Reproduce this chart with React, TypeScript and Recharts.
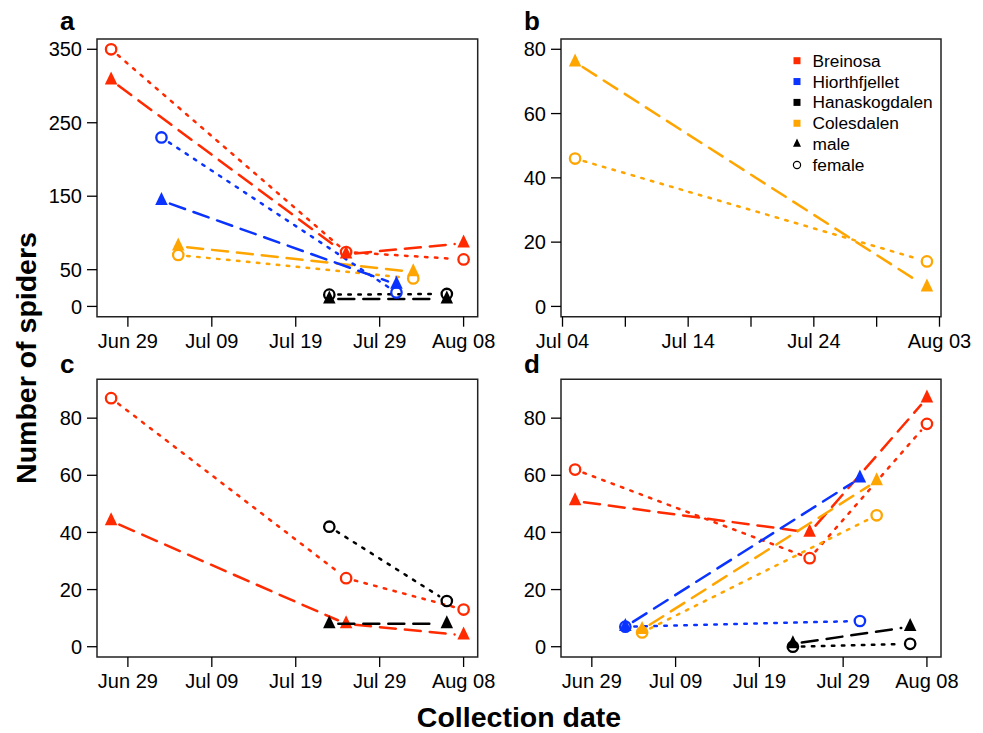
import React from 'react';
import { ScatterChart, Scatter, XAxis, YAxis, ReferenceArea } from 'recharts';

const RED = '#ff2a00';
const BLUE = '#0a33ff';
const BLACK = '#000000';
const ORANGE = '#ffa500';
const FONT = '"Liberation Sans", Arial, Helvetica, sans-serif';
const YEAR = 2013;

// ---- tick labels ----
const ticksACD = ['06-29', '07-09', '07-19', '07-29', '08-08'];
const tickLabelsACD = ['Jun 29', 'Jul 09', 'Jul 19', 'Jul 29', 'Aug 08'];
const ticksB = ['07-04', '07-09', '07-14', '07-19', '07-24', '07-29', '08-03'];
const tickLabelsB = ['Jul 04', '', 'Jul 14', '', 'Jul 24', '', 'Aug 03'];
const yTicksA = [0, 50, 150, 250, 350];
const yTicksB = [0, 20, 40, 60, 80];
const yTicksCD = [0, 20, 40, 60, 80];
const yLimA = [0, 350];
const yLimB = [0, 80];
const yLimCD = [0, 90];

// ---- legend ----
const sites = ['Breinosa', 'Hiorthfjellet', 'Hanaskogdalen', 'Colesdalen'];
const siteColors = [RED, BLUE, BLACK, ORANGE];
const sexes = ['male', 'female'];

// ---- panel a ----
const aBreinosaDates = ['06-27', '07-25', '08-08'];
const aBreinosaMale = [308, 71, 86];
const aBreinosaFemale = [350, 74, 64];
const aHiorthDates = ['07-03', '07-31'];
const aHiorthMale = [144, 30];
const aHiorthFemale = [230, 19];
const aHanaskDates = ['07-23', '08-06'];
const aHanaskMale = [10, 10];
const aHanaskFemale = [16, 17];
const aColesDates = ['07-05', '08-02'];
const aColesMale = [82, 47];
const aColesFemale = [70, 38];

// ---- panel b ----
const bColesDates = ['07-05', '08-02'];
const bColesMale = [76, 6];
const bColesFemale = [46, 14];

// ---- panel c ----
const cBreinosaDates = ['06-27', '07-25', '08-08'];
const cBreinosaMale = [44, 8, 4];
const cBreinosaFemale = [87, 24, 13];
const cHanaskDates = ['07-23', '08-06'];
const cHanaskMale = [8, 8];
const cHanaskFemale = [42, 16];

// ---- panel d ----
const dBreinosaDates = ['06-27', '07-25', '08-08'];
const dBreinosaMale = [51, 40, 87];
const dBreinosaFemale = [62, 31, 78];
const dHiorthDates = ['07-03', '07-31'];
const dHiorthMale = [7, 59];
const dHiorthFemale = [7, 9];
const dHanaskDates = ['07-23', '08-06'];
const dHanaskMale = [1, 7];
const dHanaskFemale = [0, 1];
const dColesDates = ['07-05', '08-02'];
const dColesMale = [6, 58];
const dColesFemale = [5, 46];

const day = (md: string) => {
  const [m, d] = md.split('-').map(Number);
  return Date.UTC(YEAR, m - 1, d) / 86400000;
};

type Series = { dates: string[]; values: number[]; color: string; sex: 'm' | 'f' };

const mk = (dates: string[], values: number[], color: string, sex: 'm' | 'f'): Series => ({ dates, values, color, sex });

const seriesA: Series[] = [
  mk(aHanaskDates, aHanaskMale, BLACK, 'm'),
  mk(aHanaskDates, aHanaskFemale, BLACK, 'f'),
  mk(aColesDates, aColesMale, ORANGE, 'm'),
  mk(aColesDates, aColesFemale, ORANGE, 'f'),
  mk(aHiorthDates, aHiorthMale, BLUE, 'm'),
  mk(aHiorthDates, aHiorthFemale, BLUE, 'f'),
  mk(aBreinosaDates, aBreinosaMale, RED, 'm'),
  mk(aBreinosaDates, aBreinosaFemale, RED, 'f'),
];
const seriesB: Series[] = [
  mk(bColesDates, bColesMale, ORANGE, 'm'),
  mk(bColesDates, bColesFemale, ORANGE, 'f'),
];
const seriesC: Series[] = [
  mk(cBreinosaDates, cBreinosaMale, RED, 'm'),
  mk(cBreinosaDates, cBreinosaFemale, RED, 'f'),
  mk(cHanaskDates, cHanaskMale, BLACK, 'm'),
  mk(cHanaskDates, cHanaskFemale, BLACK, 'f'),
];
const seriesD: Series[] = [
  mk(dBreinosaDates, dBreinosaMale, RED, 'm'),
  mk(dBreinosaDates, dBreinosaFemale, RED, 'f'),
  mk(dHiorthDates, dHiorthMale, BLUE, 'm'),
  mk(dHiorthDates, dHiorthFemale, BLUE, 'f'),
  mk(dColesDates, dColesMale, ORANGE, 'm'),
  mk(dColesDates, dColesFemale, ORANGE, 'f'),
  mk(dHanaskDates, dHanaskMale, BLACK, 'm'),
  mk(dHanaskDates, dHanaskFemale, BLACK, 'f'),
];

const padDomain = (lo: number, hi: number): [number, number] => {
  const p = (hi - lo) * 0.04;
  return [lo - p, hi + p];
};

const xRange = (series: Series[]) => {
  const all = series.flatMap((s) => s.dates.map(day));
  return padDomain(Math.min(...all), Math.max(...all));
};

const LONG_DASH = '16 9';
const DOT_DASH = '2.5 7.5';

function GapLine(props: any) {
  const { points, lineColor, dash } = props;
  const g = 9;
  const segs: React.ReactNode[] = [];
  if (!points) return null;
  for (let i = 0; i < points.length - 1; i++) {
    const a = points[i];
    const b = points[i + 1];
    const dx = b.x - a.x;
    const dy = b.y - a.y;
    const L = Math.sqrt(dx * dx + dy * dy);
    if (L <= 2 * g) continue;
    const ux = dx / L;
    const uy = dy / L;
    segs.push(
      <line
        key={i}
        x1={a.x + ux * g}
        y1={a.y + uy * g}
        x2={b.x - ux * g}
        y2={b.y - uy * g}
        stroke={lineColor}
        strokeWidth={2.5}
        strokeDasharray={dash}
        strokeLinecap="round"
        fill="none"
      />
    );
  }
  return <g>{segs}</g>;
}

const triPath = (cx: number, cy: number, s: number) => {
  const r = (s * 1.155) / 2;
  const xc = s / 2;
  return `M${cx},${cy - r * 1.2} L${cx + xc},${cy + r * 0.6} L${cx - xc},${cy + r * 0.6} Z`;
};

const makeShape = (color: string, sex: 'm' | 'f') => (p: any) => {
  const { cx, cy } = p;
  if (cx == null || cy == null) return <g />;
  if (sex === 'm') return <path d={triPath(cx, cy, 12.5)} fill={color} stroke="none" />;
  return <circle cx={cx} cy={cy} r={5.2} fill="none" stroke={color} strokeWidth={2.3} />;
};

type PanelProps = {
  left: number;
  top: number;
  width: number;
  height: number;
  margin: { top: number; right: number; bottom: number; left: number };
  series: Series[];
  xTicks: string[];
  xLabels: string[];
  yTicks: number[];
  yLim: number[];
};

function Panel({ left, top, width, height, margin, series, xTicks, xLabels, yTicks, yLim }: PanelProps) {
  const xDomain = xRange(series);
  const yDomain = padDomain(yLim[0], yLim[1]);
  const tickNums = xTicks.map(day);
  const labelOf = (v: number) => {
    const i = tickNums.findIndex((t) => Math.abs(t - v) < 1e-6);
    return i >= 0 ? xLabels[i] : '';
  };
  return (
    <div style={{ position: 'absolute', left, top }}>
      <ScatterChart width={width} height={height} margin={margin}>
        <XAxis
          type="number"
          dataKey="x"
          scale="linear"
          domain={xDomain}
          allowDataOverflow
          ticks={tickNums}
          interval={0}
          tickFormatter={labelOf}
          axisLine={false}
          tickLine={{ stroke: '#000', strokeWidth: 1.3 }}
          tickSize={10}
          tickMargin={7}
          height={30}
          tick={{ fill: '#000', fontSize: 20, fontFamily: FONT }}
        />
        <YAxis
          type="number"
          dataKey="y"
          scale="linear"
          domain={yDomain}
          allowDataOverflow
          ticks={yTicks}
          interval={0}
          axisLine={false}
          tickLine={{ stroke: '#000', strokeWidth: 1.3 }}
          tickSize={10}
          tickMargin={5}
          width={60}
          tick={{ fill: '#000', fontSize: 20, fontFamily: FONT }}
        />
        <ReferenceArea
          x1={xDomain[0]}
          x2={xDomain[1]}
          y1={yDomain[0]}
          y2={yDomain[1]}
          fill="none"
          fillOpacity={0}
          stroke="#222"
          strokeWidth={1.5}
          ifOverflow="visible"
        />
        {series.map((s, i) => (
          <Scatter
            key={i}
            data={s.dates.map((d, j) => ({ x: day(d), y: s.values[j] }))}
            fill={s.color}
            isAnimationActive={false}
            line={<GapLine lineColor={s.color} dash={s.sex === 'm' ? LONG_DASH : DOT_DASH} />}
            lineType="joint"
            shape={makeShape(s.color, s.sex)}
          />
        ))}
      </ScatterChart>
    </div>
  );
}

export default function App() {
  const legendY0 = 60.7;
  const legendStep = 20.85;
  return (
    <div style={{ position: 'absolute', left: 0, top: 0, width: 983, height: 733, background: '#fff', overflow: 'hidden' }}>
      <Panel
        left={0}
        top={0}
        width={510}
        height={360}
        margin={{ top: 39, right: 32.3, bottom: 13.3, left: 37 }}
        series={seriesA}
        xTicks={ticksACD}
        xLabels={tickLabelsACD}
        yTicks={yTicksA}
        yLim={yLimA}
      />
      <Panel
        left={490}
        top={0}
        width={493}
        height={360}
        margin={{ top: 39, right: 42, bottom: 13.3, left: 11 }}
        series={seriesB}
        xTicks={ticksB}
        xLabels={tickLabelsB}
        yTicks={yTicksB}
        yLim={yLimB}
      />
      <Panel
        left={0}
        top={360}
        width={510}
        height={373}
        margin={{ top: 19.3, right: 32.3, bottom: 46, left: 37 }}
        series={seriesC}
        xTicks={ticksACD}
        xLabels={tickLabelsACD}
        yTicks={yTicksCD}
        yLim={yLimCD}
      />
      <Panel
        left={490}
        top={360}
        width={493}
        height={373}
        margin={{ top: 19.3, right: 42, bottom: 46, left: 11 }}
        series={seriesD}
        xTicks={ticksACD}
        xLabels={tickLabelsACD}
        yTicks={yTicksCD}
        yLim={yLimCD}
      />
      <svg width={983} height={733} style={{ position: 'absolute', left: 0, top: 0, pointerEvents: 'none' }}>
        <g fontFamily={FONT} fontWeight="bold" fill="#000">
          <text x={60} y={30} fontSize={26}>a</text>
          <text x={524} y={30} fontSize={26}>b</text>
          <text x={60} y={373} fontSize={26}>c</text>
          <text x={524} y={373} fontSize={26}>d</text>
          <text x={519} y={727} fontSize={28.5} textAnchor="middle">Collection date</text>
          <text transform="translate(36,358) rotate(-90)" fontSize={28.5} textAnchor="middle">Number of spiders</text>
        </g>
        <g fontFamily={FONT} fontSize={17.3} fill="#000">
          {sites.map((s, i) => (
            <g key={s}>
              <rect x={793.5} y={legendY0 + i * legendStep - 3.5} width={7} height={7} fill={siteColors[i]} />
              <text x={812.5} y={legendY0 + i * legendStep} dominantBaseline="central">{s}</text>
            </g>
          ))}
          {sexes.map((s, i) => {
            const cy = legendY0 + (4 + i) * legendStep;
            return (
              <g key={s}>
                {i === 0 ? (
                  <path d={triPath(797, cy, 8)} fill="#000" />
                ) : (
                  <circle cx={797} cy={cy} r={3.6} fill="none" stroke="#000" strokeWidth={1.2} />
                )}
                <text x={812.5} y={cy} dominantBaseline="central">{s}</text>
              </g>
            );
          })}
        </g>
      </svg>
    </div>
  );
}
